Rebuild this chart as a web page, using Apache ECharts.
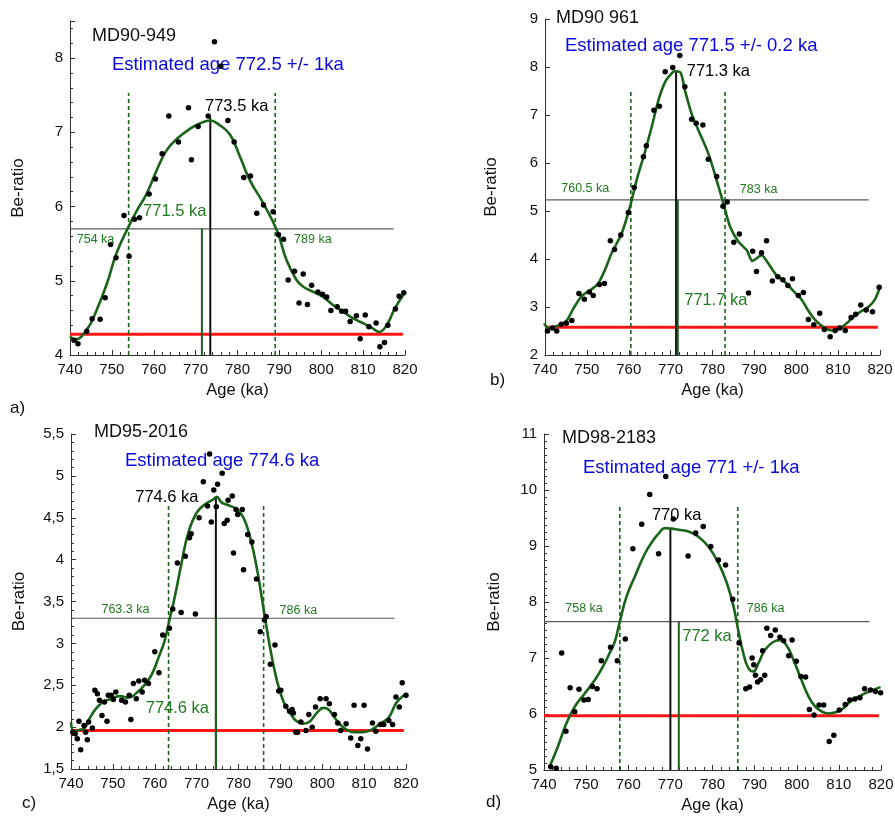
<!DOCTYPE html>
<html>
<head>
<meta charset="utf-8">
<title>Be-ratio peaks around the Matuyama–Brunhes reversal</title>
<script src="https://cdn.jsdelivr.net/npm/echarts@6/dist/echarts.min.js"></script>
<style>
  html, body { margin: 0; padding: 0; background: #fff; }
  #chart { width: 895px; height: 816px; }
</style>
</head>
<body>
<div id="chart"></div>
<script>
// ---- Core names and annotation values (one entry per core: a, b, c, d) ----
const cores = ['MD90-949', 'MD90 961', 'MD95-2016', 'MD98-2183'];
const estimates = ['Estimated age 772.5 +/- 1ka', 'Estimated age 771.5 +/- 0.2 ka', 'Estimated age 774.6 ka', 'Estimated age 771 +/- 1ka'];
const panelTags = ['a)', 'b)', 'c)', 'd)'];
const baseline = [4.28, 2.58, 1.96, 5.97];      // red reference level
const halfLevel = [5.70, 5.23, 3.30, 7.65];     // grey half-height level
const leftAge = [754, 760.5, 763.3, 758];       // dashed left crossing
const rightAge = [789, 783, 786, 786];          // dashed right crossing
const peakAge = [773.5, 771.3, 774.6, 770];     // black peak line
const midAge = [771.5, 771.7, 774.6, 772];      // green mid-point line
const peakTop = [7.20, 7.90, 4.75, 9.32];       // height reached by peak line
const dashTop = [7.53, 7.52, 4.64, 9.72];       // height reached by dashed lines

// ---- Axis ranges and ticks ----
const ageTicks = [740, 750, 760, 770, 780, 790, 800, 810, 820];
const yMin = [4, 2, 1.5, 5];
const yMax = [8.5, 9, 5.5, 11];
const yStep = [1, 1, 0.5, 1];
const yMinorSplit = [5, 0, 5, 8];

// ---- a) MD90-949 ----
const dotsA = [
  [740.96,4.20],[741.9,4.15],[744.0,4.32],[745.3,4.49],[747.2,4.48],[748.4,4.77],[749.7,5.49],[751.0,5.31],
  [752.9,5.88],[754.1,5.33],[755.4,5.83],[756.6,5.85],[758.9,6.17],[760.4,6.37],[762.0,6.71],[763.6,7.22],
  [765.9,6.87],[768.3,7.33],[769.0,6.63],[770.6,7.08],[773.0,7.22],[774.5,8.22],[776.0,7.89],[777.7,7.16],
  [779.2,6.87],[781.5,6.39],[783.1,6.41],[784.6,5.91],[786.2,6.02],[788.5,5.93],[789.8,5.62],[791.0,5.56],
  [792.1,5.01],[793.6,5.13],[794.7,4.70],[795.7,5.09],[796.7,4.68],[797.7,4.94],[799.2,4.85],[800.3,4.82],
  [801.3,4.78],[802.3,4.60],[803.8,4.65],[804.9,4.59],[805.8,4.59],[806.9,4.45],[808.4,4.53],[809.3,4.22],
  [810.5,4.54],[811.4,4.38],[813.1,4.43],[814.0,4.11],[815.1,4.17],[815.9,4.40],[817.7,4.62],[818.6,4.79],
  [819.7,4.84]
];
const curveA = [
  [740,4.25],[741.2,4.21],[744,4.34],[746.4,4.61],[748.8,4.96],[751.1,5.37],[753.9,5.72],[756.0,5.95],
  [758.3,6.17],[760.7,6.49],[763.1,6.76],[765.9,6.93],[768.7,7.05],[771.0,7.12],[773.4,7.16],[775.4,7.11],
  [778.2,6.97],[780.6,6.67],[783.0,6.35],[786.2,6.04],[789.4,5.68],[791.7,5.28],[794.1,5.01],[795.7,4.92],
  [798.1,4.85],[800.5,4.78],[802.9,4.67],[805.3,4.58],[807.7,4.49],[810.0,4.43],[812.0,4.37],[813.8,4.31],
  [815.6,4.40],[817.6,4.63],[819.8,4.83]
];

// ---- b) MD90 961 ----
const dotsB = [
  [740.6,2.50],[741.8,2.56],[742.8,2.50],[743.9,2.64],[745.1,2.66],[746.4,2.72],[748.1,3.28],[749.4,3.16],
  [750.6,3.31],[751.5,3.24],[753.0,3.47],[754.2,3.49],[755.6,4.38],[756.6,4.20],[758.1,4.50],[759.9,4.97],
  [761.3,5.49],[763.5,6.13],[764.2,6.36],[766.0,7.10],[767.3,7.18],[768.7,7.90],[770.5,7.99],[772.2,8.24],
  [773.4,7.59],[775.0,6.91],[776.1,6.83],[777.7,6.79],[779.0,6.08],[781.0,5.72],[782.5,5.10],[783.5,5.19],
  [785.1,4.35],[786.4,4.52],[788.6,3.29],[789.6,4.16],[790.5,3.74],[791.7,4.13],[792.9,4.38],[794.3,3.54],
  [795.6,3.63],[796.8,3.57],[798.0,3.45],[799.1,3.59],[800.5,3.24],[801.7,3.30],[802.9,2.74],[804.2,2.63],
  [805.6,2.87],[806.7,2.53],[808.1,2.38],[809.3,2.51],[810.4,2.56],[811.7,2.51],[813.1,2.78],[814.2,2.85],
  [815.4,3.04],[816.7,2.94],[818.2,2.90],[819.8,3.41]
];
const curveB = [
  [739.8,2.66],[740.8,2.56],[743.6,2.63],[745.2,2.72],[746.8,2.97],[748.8,3.23],[751.1,3.37],[752.7,3.49],
  [754.3,3.77],[755.9,4.12],[758.3,4.53],[760.3,5.09],[761.9,5.65],[763.9,6.24],[765.5,6.76],[767.1,7.31],
  [768.7,7.69],[770.3,7.87],[771.0,7.91],[772.4,7.88],[773.4,7.52],[775.0,7.03],[776.6,6.69],[779.0,6.20],
  [781.0,5.64],[782.6,5.16],[784.2,4.67],[786.2,4.36],[788.2,4.18],[789.5,3.96],[790.5,4.01],[791.7,4.08],
  [793.3,3.91],[795.3,3.66],[797.3,3.52],[799.7,3.30],[801.3,3.15],[802.9,2.92],[804.5,2.73],[806.5,2.58],
  [808.5,2.51],[810.5,2.56],[812.4,2.69],[814.8,2.87],[817.2,3.00],[818.8,3.16],[820,3.41]
];

// ---- c) MD95-2016 ----
const dotsC = [
  [740.4,1.94],[741.0,1.92],[741.5,1.86],[741.9,2.07],[742.3,1.73],[743.1,2.02],[743.5,1.94],[743.9,1.85],
  [744.2,2.06],[745.1,1.99],[745.7,2.44],[746.3,2.40],[746.8,2.32],[747.4,2.14],[748.0,2.30],[748.6,2.07],
  [748.9,2.38],[749.6,2.38],[750.1,2.33],[750.7,2.42],[752.1,2.32],[753.0,2.30],[753.9,2.38],[754.3,2.09],
  [754.9,2.52],[755.6,2.34],[756.2,2.55],[757.0,2.42],[757.6,2.56],[758.5,2.52],[760.0,2.90],[761.0,2.65],
  [761.9,3.10],[763.5,3.18],[764.3,3.41],[765.4,3.96],[766.3,3.37],[767.3,4.04],[768.3,4.26],[768.7,4.31],
  [769.7,3.35],[770.6,4.50],[771.6,4.93],[772.6,4.64],[773.1,5.26],[773.5,4.45],[774.1,4.83],[774.7,4.63],
  [775.0,4.90],[776.1,5.03],[776.6,4.43],[777.3,4.47],[777.5,4.71],[778.5,4.76],[778.8,4.08],[779.4,4.60],
  [779.8,4.54],[780.9,4.60],[781.2,3.88],[782.2,4.30],[783.2,4.21],[784.3,3.77],[785.2,3.14],[786.2,3.28],
  [786.6,3.32],[787.6,2.75],[788.7,2.98],[789.6,2.43],[790.1,2.44],[791.3,2.25],[792.2,2.19],[792.8,2.21],
  [793.1,2.17],[793.7,1.94],[794.1,1.94],[794.9,2.06],[796.1,1.96],[796.8,2.15],[797.6,2.00],[798.4,2.24],
  [799.5,2.34],[800.9,2.34],[801.7,2.28],[802.9,2.15],[803.7,2.05],[804.4,1.96],[805.7,2.04],[806.8,1.87],
  [807.6,2.26],[808.5,1.78],[809.2,1.86],[810.0,2.26],[810.8,1.74],[812.0,2.05],[812.8,1.95],[813.9,2.03],
  [814.7,2.03],[815.9,2.08],[816.8,2.03],[817.6,2.36],[818.4,2.24],[819.1,2.53],[820.0,2.38]
];
const curveC = [
  [740,2.06],[740.7,1.95],[742.1,1.97],[743.3,1.99],[744.5,2.11],[746.1,2.23],[747.7,2.30],[749.7,2.34],
  [751.7,2.37],[753.7,2.35],[755.7,2.41],[757.7,2.51],[759.3,2.63],[760.9,2.83],[762.4,3.04],[763.6,3.30],
  [764.8,3.56],[766.4,3.96],[768.0,4.32],[770.0,4.56],[772.0,4.66],[774.0,4.72],[774.8,4.75],[776.0,4.68],
  [777.6,4.65],[779.6,4.60],[781.2,4.50],[782.7,4.28],[784.3,3.92],[785.9,3.44],[787.5,2.96],[789.1,2.57],
  [790.7,2.31],[792.3,2.17],[793.9,2.07],[795.5,2.04],[797.1,2.07],[798.7,2.17],[800.3,2.23],[801.5,2.21],
  [802.7,2.13],[804.3,2.03],[805.8,1.97],[807.4,1.94],[809.8,1.94],[811.8,1.97],[813.8,2.04],[815.8,2.11],
  [817.7,2.29],[819.7,2.39]
];

// ---- d) MD98-2183 ----
const dotsD = [
  [741.6,5.06],[742.9,5.03],[744.2,7.09],[745.2,5.69],[746.2,6.47],[747.3,6.04],[748.3,6.44],[749.5,6.25],
  [750.5,6.26],[751.5,6.49],[752.6,6.45],[753.6,6.95],[755.8,7.19],[757.4,6.95],[759.3,7.34],[761.1,8.95],
  [763.2,9.39],[765.1,9.92],[767.2,8.86],[768.9,10.24],[770.7,9.48],[774.2,8.82],[776.0,9.23],[777.8,9.35],
  [779.6,8.99],[781.4,8.75],[783.1,8.66],[784.8,8.05],[786.3,7.27],[787.9,6.45],[788.8,6.48],[789.4,7.00],
  [789.8,6.88],[790.2,6.69],[790.7,6.57],[791.4,6.61],[791.9,7.13],[792.4,6.69],[792.9,7.53],[793.8,7.40],
  [794.9,7.50],[796.0,7.37],[796.9,7.31],[798.1,7.04],[798.9,7.32],[799.9,6.94],[801.0,6.67],[802.1,6.66],
  [803.0,6.08],[804.1,5.98],[805.3,6.16],[806.4,6.16],[807.7,5.51],[808.8,5.62],[810.1,6.07],[811.5,6.17],
  [812.6,6.25],[813.8,6.27],[815.0,6.29],[816.1,6.45],[817.5,6.43],[818.7,6.40],[819.9,6.38]
];
const curveD = [
  [741.4,5.07],[743.3,5.42],[745.3,5.83],[747.3,6.13],[749.7,6.37],[752.1,6.61],[754.0,6.85],[755.6,7.09],
  [756.8,7.29],[758.0,7.65],[759.6,8.10],[761.6,8.46],[764.0,8.87],[766.0,9.11],[767.3,9.23],[768.7,9.32],
  [770.3,9.31],[771.9,9.29],[774.3,9.26],[776.6,9.17],[779.0,8.99],[781.4,8.70],[783.4,8.34],[785.0,7.92],
  [786.1,7.50],[787.3,7.09],[788.5,6.82],[789.7,6.76],[790.9,6.91],[792.5,7.15],[794.5,7.29],[796.1,7.32],
  [797.7,7.21],[799.2,6.97],[800.8,6.67],[802.8,6.31],[804.4,6.13],[806.0,6.04],[807.6,6.01],[809.2,6.03],
  [810.7,6.08],[812.7,6.22],[814.7,6.31],[817.1,6.40],[819.9,6.48]
];

const dotSets = [dotsA, dotsB, dotsC, dotsD];
const curveSets = [curveA, curveB, curveC, curveD];

// ---- Layout and styling ----
const FONT = '"Liberation Sans", Arial, Helvetica, sans-serif';
const GREEN = '#1a641a';
const GREEN_TEXT = '#1f7a1f';
const BLUE = '#0a0ae0';
const RED = '#ff1414';

const grids = [
  { left: 70,  top: 21,  width: 335, height: 334 },
  { left: 545, top: 19,  width: 335, height: 336 },
  { left: 71,  top: 434, width: 335, height: 335 },
  { left: 544, top: 434, width: 337, height: 336 }
];
const redEnd = 819.5;
const greyEnd = 817.3;

// label anchor points (data coordinates, text centred on them)
const peakLabelAt = [[779.8, 7.35], [781.4, 7.90], [762.9, 4.74], [771.5, 9.54]];
const midLabelAt = [[765.0, 5.94], [780.8, 3.13], [765.4, 2.22], [778.7, 7.38]];
const leftLabelAt = [[746.1, 5.56], [749.6, 5.46], [753.0, 3.40], [749.5, 7.88]];
const rightLabelAt = [[798.0, 5.56], [791.0, 5.44], [794.3, 3.39], [792.6, 7.875]];

// header texts: [x, y-centre] in pixels
const coreTextAt = [[92, 36], [556, 18], [94, 432], [562, 438]];
const estTextAt = [[112, 65], [565, 46], [125, 461], [583, 468]];
const tagTextAt = [[10, 408], [490, 380], [22, 803], [486, 802]];

const xAxes = grids.map((g, i) => ({
  type: 'value', gridIndex: i, min: ageTicks[0], max: ageTicks[ageTicks.length - 1], interval: 10,
  name: 'Age (ka)', nameLocation: 'middle', nameGap: 27,
  nameTextStyle: { fontFamily: FONT, fontSize: 16.5, color: '#111' },
  axisLine: { show: true, onZero: false, lineStyle: { color: '#333', width: 1 } },
  axisTick: { show: true, inside: true, length: 5, lineStyle: { color: '#333' } },
  minorTick: { show: true, splitNumber: 5, length: 3, lineStyle: { color: '#333' } },
  axisLabel: { fontFamily: FONT, fontSize: 15, color: '#111', margin: 7 },
  splitLine: { show: false }, minorSplitLine: { show: false }
}));

const yAxes = grids.map((g, i) => ({
  type: 'value', gridIndex: i, min: yMin[i], max: yMax[i], interval: yStep[i],
  name: 'Be-ratio', nameLocation: 'middle', nameGap: i % 2 === 0 ? 43 : (i === 1 ? 45 : 41),
  nameTextStyle: { fontFamily: FONT, fontSize: 17, color: '#111' },
  axisLine: { show: true, onZero: false, lineStyle: { color: '#333', width: 1 } },
  axisTick: { show: true, inside: true, length: 5, lineStyle: { color: '#333' } },
  minorTick: { show: yMinorSplit[i] > 0, splitNumber: yMinorSplit[i] || 5, length: 3, lineStyle: { color: '#333' } },
  axisLabel: {
    fontFamily: FONT, fontSize: 15, color: '#111', margin: 7, showMaxLabel: i === 0 ? false : true,
    formatter: v => i === 2 ? String(v).replace('.', ',') : String(v)
  },
  splitLine: { show: false }, minorSplitLine: { show: false }
}));

const series = [];
function seg(i, data, lineStyle, z) {
  series.push({
    type: 'line', xAxisIndex: i, yAxisIndex: i, data, symbol: 'none', silent: true,
    lineStyle, z: z || 2, animation: false
  });
}
for (let i = 0; i < 4; i++) {
  seg(i, [[ageTicks[0], halfLevel[i]], [greyEnd, halfLevel[i]]], { color: '#5a5a5a', width: 1.2 }, 1);
  seg(i, [[ageTicks[0], baseline[i]], [redEnd, baseline[i]]], { color: RED, width: 3 }, 2);
  seg(i, [[leftAge[i], yMin[i]], [leftAge[i], dashTop[i]]], { color: GREEN, width: 1.6, type: [4, 3] }, 2);
  seg(i, [[rightAge[i], yMin[i]], [rightAge[i], dashTop[i]]], { color: GREEN, width: 1.6, type: [4, 3] }, 2);
  seg(i, [[peakAge[i], yMin[i]], [peakAge[i], peakTop[i]]], { color: '#111', width: 2 }, 3);
  seg(i, [[midAge[i], yMin[i]], [midAge[i], halfLevel[i]]], { color: GREEN, width: 2 }, 3);
  series.push({
    type: 'line', xAxisIndex: i, yAxisIndex: i, data: curveSets[i], smooth: i === 1 ? 0.25 : 0.45,
    symbol: 'none', silent: true, lineStyle: { color: GREEN, width: 2.6 }, z: 4
  });
  series.push({
    type: 'scatter', xAxisIndex: i, yAxisIndex: i, data: dotSets[i], symbol: 'circle', symbolSize: 5.5,
    itemStyle: { color: '#000', opacity: 1 }, silent: true, z: 5
  });
  const lab = (pos, text, color, size) => ({
    value: pos,
    label: { show: true, position: 'inside', formatter: text, color, opacity: 1, fontSize: size,
             fontFamily: FONT, textBorderWidth: 0 }
  });
  series.push({
    type: 'scatter', xAxisIndex: i, yAxisIndex: i, symbolSize: 0, silent: true, z: 6,
    itemStyle: { opacity: 1 },
    data: [
      lab(peakLabelAt[i], `${peakAge[i]} ka`, '#000', 16.5),
      lab(midLabelAt[i], `${midAge[i]} ka`, GREEN_TEXT, 16.5),
      lab(leftLabelAt[i], `${leftAge[i]} ka`, GREEN_TEXT, 12.5),
      lab(rightLabelAt[i], `${rightAge[i]} ka`, GREEN_TEXT, 12.5)
    ]
  });
}

const graphic = [];
for (let i = 0; i < 4; i++) {
  graphic.push({ type: 'text', x: coreTextAt[i][0], y: coreTextAt[i][1], silent: true,
    style: { text: cores[i], fill: '#111', fontSize: 18, fontFamily: FONT, verticalAlign: 'middle' } });
  graphic.push({ type: 'text', x: estTextAt[i][0], y: estTextAt[i][1], silent: true,
    style: { text: estimates[i], fill: BLUE, fontSize: 18.5, fontFamily: FONT, verticalAlign: 'middle' } });
  graphic.push({ type: 'text', x: tagTextAt[i][0], y: tagTextAt[i][1], silent: true,
    style: { text: panelTags[i], fill: '#111', fontSize: 17, fontFamily: FONT, verticalAlign: 'middle' } });
}

const chart = echarts.init(document.getElementById('chart'), null, { renderer: 'canvas' });
chart.setOption({
  animation: false,
  backgroundColor: '#fff',
  grid: grids.map(g => Object.assign({ outerBoundsMode: 'none', containLabel: false }, g)),
  xAxis: xAxes,
  yAxis: yAxes,
  series,
  graphic
});
</script>
</body>
</html>
